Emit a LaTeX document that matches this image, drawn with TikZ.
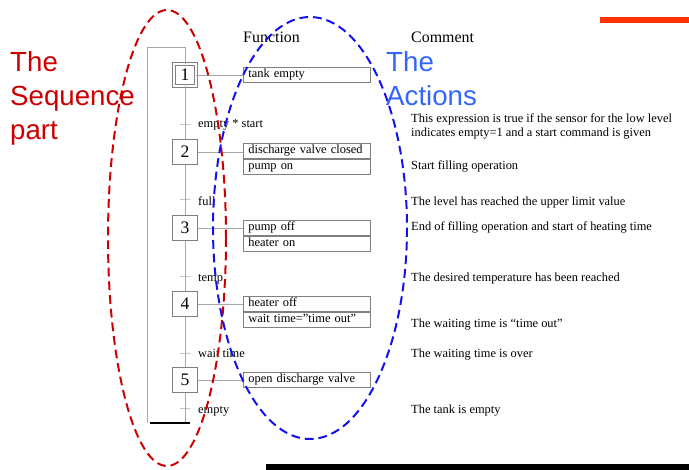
\documentclass[tikz,border=0pt]{standalone}
\usepackage{fontspec}
\setmainfont{Liberation Serif}
\newfontfamily\labelfont{Liberation Sans}
\usetikzlibrary{positioning}

\begin{document}
\begin{tikzpicture}
	[x=0.03cm,y=-0.03cm,line cap=butt,
	%Styles
	seq line/.style={color=linegray,line width=0.6pt},
	stepbox/.style={draw=boxgray,fill=white,line width=0.8pt,minimum size=0.76cm,inner sep=0pt,font=\fontsize{15}{17}\selectfont},
	initstep/.style={stepbox,minimum size=0.66cm,double=white,double distance=1.75pt},
	trans/.style={draw=linegray,line width=0.6pt,inner sep=0pt,minimum width=0.3cm,minimum height=0pt},
	translabel/.style={anchor=base west,inner sep=0pt,font=\fontsize{10.6}{12}\selectfont},
	action/.style={draw=boxgray,line width=0.6pt,minimum width=3.81cm,minimum height=0.45cm,text width=3.51cm,inner xsep=0.15cm,inner ysep=0pt,align=left,text height=0.7em,text depth=0.2em,font=\fontsize{10.6}{12}\selectfont},
	comment/.style={anchor=base west,inner sep=0pt,font=\fontsize{10.6}{12}\selectfont},
	header/.style={anchor=base west,inner sep=0pt,font=\fontsize{13.6}{16}\selectfont},
	bigtext/.style={anchor=north west,inner sep=0pt,align=left,font=\labelfont\fontsize{23.6}{29}\selectfont},
	loopdash/.style={line width=1.7pt,dash pattern=on 7.5pt off 4.2pt}
	]
	
	%Colors
	\definecolor{seqred}{HTML}{CC0000}		%sequence part
	\definecolor{actblue}{HTML}{3366FF}		%actions text
	\definecolor{dashblue}{HTML}{1010F0}		%actions ellipse
	\definecolor{barorange}{HTML}{FF3300}
	\colorlet{linegray}{black!35}
	\colorlet{boxgray}{black!50}
	
	\useasboundingbox (0,0) rectangle (689,470);
	
	%Bars
	\fill[barorange] (600,17) rectangle (689,23);
	\fill[black] (266,464) rectangle (689,470);
	
	%Headers
	\node[header] (fn) at (243,42) {Function};
	\node[header] (cm) at (411,42) {Comment};
	
	%Steps
	\node[initstep] (s1) at (185,75) {1};
	\foreach \n/\y in {2/152,3/228,4/304,5/380}
		\node[stepbox] (s\n) at (185,\y) {\n};
	
	%Transitions
	\foreach \n/\y/\b/\t in {1/124/127.5/{empty * start},2/199/205/full,3/276/281/temp,4/353/357/{wait time},5/408/413/empty}
	{
		\node[trans] (t\n) at (185,\y) {};
		\node[translabel] (l\n) at (198,\b) {\t};
	}
	
	%The graphic
	\coordinate (top) at (185,47);
	\coordinate (left) at (147,423);
	\coordinate (bot) at (185,423);
	\coordinate (endl) at (150,423);
	\coordinate (endr) at (190,423);
	\draw[seq line] (left) |- (top) -- (s1) -- (s2) -- (s3) -- (s4) -- (s5) -- (bot);
	\draw[black,line width=1.2pt] (endl) -- (endr);
	
	%Actions
	\node[action,anchor=west] (a1) at (243,75) {tank empty};
	\node[action,anchor=west] (a2) at (243,151) {discharge valve closed};
	\node[action,below=0pt of a2] (a2b) {pump on};
	\node[action,anchor=west] (a3) at (243,228) {pump off};
	\node[action,below=0pt of a3] (a3b) {heater on};
	\node[action,anchor=west] (a4) at (243,304) {heater off};
	\node[action,below=0pt of a4] (a4b) {wait time=''time out''};
	\node[action,anchor=west] (a5) at (243,380) {open discharge valve};
	\foreach \n in {1,...,5}
		\draw[seq line] (s\n) -- (s\n -| a\n.west);
	
	%Comments
	\node[comment] (c1) at (411,122.7) {This expression is true if the sensor for the low level};
	\node[comment] (c1b) at (411,136.7) {indicates empty=1 and a start command is given};
	\node[comment] (c2) at (411,169) {Start filling operation};
	\node[comment] (c3) at (411,205) {The level has reached the upper limit value};
	\node[comment] (c4) at (411,230) {End of filling operation and start of heating time};
	\node[comment] (c5) at (411,281) {The desired temperature has been reached};
	\node[comment] (c6) at (411,327) {The waiting time is “time out”};
	\node[comment] (c7) at (411,357) {The waiting time is over};
	\node[comment] (c8) at (411,413) {The tank is empty};
	
	%Ellipses and labels
	\draw[loopdash,seqred] (167,238) ellipse [x radius=59,y radius=228];
	\draw[loopdash,dashblue] (310,228) ellipse [x radius=97,y radius=211];
	\node[bigtext,text=seqred] (seqlab) at (10,51) {The\\Sequence\\part};
	\node[bigtext,text=actblue] (actlab) at (386,51) {The\\Actions};
\end{tikzpicture}
\end{document}
